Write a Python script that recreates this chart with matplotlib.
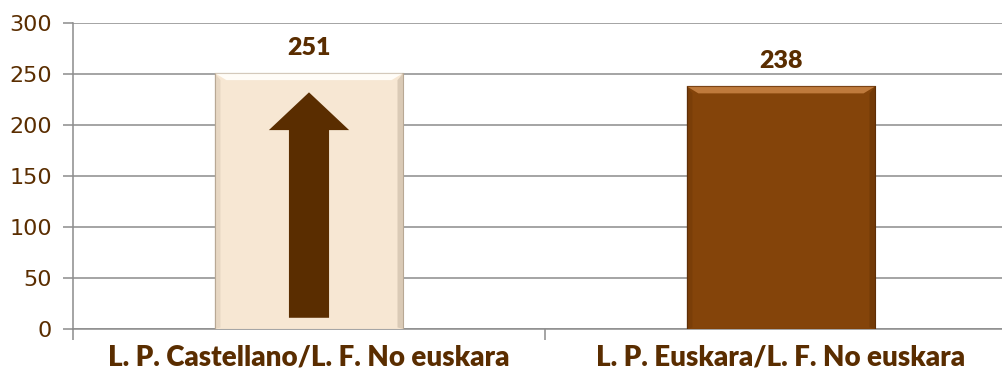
import numpy as np
import matplotlib
matplotlib.use("Agg")
import matplotlib.pyplot as plt
from matplotlib.patches import FancyArrow, Polygon

categories = ["L. P. Castellano/L. F. No euskara", "L. P. Euskara/L. F. No euskara"]
values = [251, 238]
bar_colors = ["#F7E7D3", "#84440A"]
highlight = ["#FFFCF7", "#BF7A3C"]
edge_dark = ["#B8A894", "#5E2E05"]

BROWN = "#5A2D00"
GRID = "#8C8C8C"

fig = plt.figure(figsize=(10.03, 3.72), dpi=100)
ax = fig.add_axes([73 / 1003, 43 / 372, 944 / 1003, 306 / 372])

x = np.arange(len(categories))
width = 0.40
bars = ax.bar(x, values, width=width, color=bar_colors, zorder=3,
              edgecolor=edge_dark, linewidth=0.8)

# simple bevel: light band on top, darker sides
bev_y = 7.0
bev_x = 0.025
for xi, v, hc, dc in zip(x, values, highlight, edge_dark):
    l, r = xi - width / 2, xi + width / 2
    ax.add_patch(Polygon([(l, v), (r, v), (r - bev_x, v - bev_y), (l + bev_x, v - bev_y)],
                         closed=True, color=hc, zorder=4, lw=0))
    ax.add_patch(Polygon([(r, v), (r, 0), (r - bev_x * 0.5, 1.5), (r - bev_x * 0.5, v - bev_y)],
                         closed=True, color=dc, alpha=0.45, zorder=4, lw=0))
    ax.add_patch(Polygon([(l, v), (l, 0), (l + bev_x * 0.5, 1.5), (l + bev_x * 0.5, v - bev_y)],
                         closed=True, color=dc, alpha=0.25, zorder=4, lw=0))
    ax.plot([l, r], [v, v], color=dc, lw=0.8, alpha=0.6, zorder=5)

# up arrow inside the first bar
ax.add_patch(FancyArrow(x[0], 11, 0, 221, width=0.085, head_width=0.17,
                        head_length=37, length_includes_head=True,
                        color=BROWN, zorder=5, lw=0))

for xi, v in zip(x, values):
    ax.text(xi, v + 14, f"{v}", ha="center", va="bottom", fontsize=18,
            fontweight="heavy", color=BROWN, family="Lato")

ax.set_ylim(0, 300)
ax.set_xlim(-0.5, 1.5)
ax.set_yticks(np.arange(0, 301, 50))
ax.yaxis.grid(True, color=GRID, lw=1.1, zorder=0)
ax.set_axisbelow(True)
ax.tick_params(axis="y", length=7, width=1.1, color=GRID, labelcolor=BROWN,
               labelsize=16, pad=8)
ax.set_xticks(x)
ax.set_xticklabels(categories, fontsize=20, fontweight="heavy", color=BROWN,
                   family="Lato")
ax.tick_params(axis="x", length=0, pad=11)
ax.set_xticks([-0.5, 0.5], minor=True)
ax.tick_params(axis="x", which="minor", length=8, width=1.1, color=GRID)

for s in ["top", "right"]:
    ax.spines[s].set_visible(False)
for s in ["left", "bottom"]:
    ax.spines[s].set_color(GRID)
    ax.spines[s].set_linewidth(1.1)

fig.savefig("out.png", dpi=100)
